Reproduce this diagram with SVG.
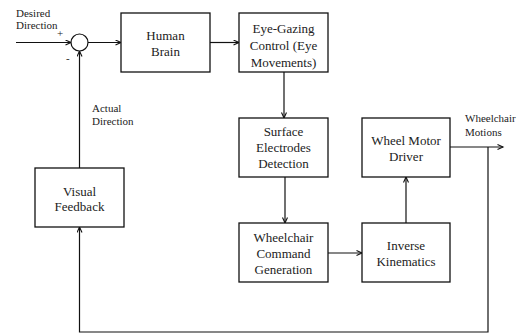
<svg xmlns="http://www.w3.org/2000/svg" width="521" height="335" viewBox="0 0 521 335">
<defs>
<style>
.box{fill:#fff;stroke:#111;stroke-width:1.3}
.t{font-size:13px;fill:#222;text-anchor:middle}
.l{font-size:11px;fill:#222}
.c{fill:none;stroke:#111;stroke-width:1.2}
</style>
<marker id="ah" markerWidth="8" markerHeight="8" refX="6" refY="3" orient="auto" markerUnits="userSpaceOnUse">
<path d="M0.5,0.5 L6,3 L0.5,5.5" fill="none" stroke="#111" stroke-width="1.1"/>
</marker>
</defs>
<rect width="521" height="335" fill="#fff"/>
<g id="connectors">
<path class="c" d="M16,42.5 H71" marker-end="url(#ah)"/>
<path class="c" d="M88,42.5 H121" marker-end="url(#ah)"/>
<path class="c" d="M210,42.5 H239" marker-end="url(#ah)"/>
<path class="c" d="M284,72 V118" marker-end="url(#ah)"/>
<path class="c" d="M285,177 V223" marker-end="url(#ah)"/>
<path class="c" d="M328,253 H362" marker-end="url(#ah)"/>
<path class="c" d="M406,223 V177" marker-end="url(#ah)"/>
<path class="c" d="M450,147 H503" marker-end="url(#ah)"/>
<path class="c" d="M488,147 V332 H79.5 V227" marker-end="url(#ah)"/>
<path class="c" d="M79.5,168 V51" marker-end="url(#ah)"/>
</g>
<g font-family="'Liberation Serif', 'Times New Roman', 'DejaVu Serif', serif">
<g id="sum">
<circle cx="79.5" cy="42.5" r="8.5" fill="#fff" stroke="#111" stroke-width="1.2"/>
<text class="l" x="57" y="37">+</text>
<text class="l" x="66" y="62">-</text>
</g>
<g id="label-desired">
<text class="l" x="16" y="17">Desired</text>
<text class="l" x="16" y="29">Direction</text>
</g>
<g id="label-actual">
<text class="l" x="92" y="112">Actual</text>
<text class="l" x="92" y="125">Direction</text>
</g>
<g id="label-motions">
<text class="l" x="465" y="122">Wheelchair</text>
<text class="l" x="465" y="136">Motions</text>
</g>
<g id="human-brain">
<rect class="box" x="121" y="13" width="89" height="59"/>
<text class="t" x="165.5" y="40">Human</text>
<text class="t" x="165.5" y="56">Brain</text>
</g>
<g id="eye-gazing">
<rect class="box" x="239" y="13" width="89" height="59"/>
<text class="t" x="283.5" y="33">Eye-Gazing</text>
<text class="t" x="283.5" y="50">Control (Eye</text>
<text class="t" x="283.5" y="67">Movements)</text>
</g>
<g id="surface">
<rect class="box" x="239" y="118" width="89" height="59"/>
<text class="t" x="283.5" y="136">Surface</text>
<text class="t" x="283.5" y="152">Electrodes</text>
<text class="t" x="283.5" y="168">Detection</text>
</g>
<g id="wheel-motor">
<rect class="box" x="362" y="118" width="88" height="59"/>
<text class="t" x="406" y="145">Wheel Motor</text>
<text class="t" x="406" y="161">Driver</text>
</g>
<g id="command">
<rect class="box" x="239" y="223" width="89" height="59"/>
<text class="t" x="283.5" y="241.5">Wheelchair</text>
<text class="t" x="283.5" y="257.5">Command</text>
<text class="t" x="283.5" y="273.5">Generation</text>
</g>
<g id="inverse">
<rect class="box" x="362" y="223" width="88" height="59"/>
<text class="t" x="406" y="250">Inverse</text>
<text class="t" x="406" y="266">Kinematics</text>
</g>
<g id="visual-feedback">
<rect class="box" x="35" y="168" width="89" height="59"/>
<text class="t" x="79.5" y="196">Visual</text>
<text class="t" x="79.5" y="211">Feedback</text>
</g>
</g>
</svg>
